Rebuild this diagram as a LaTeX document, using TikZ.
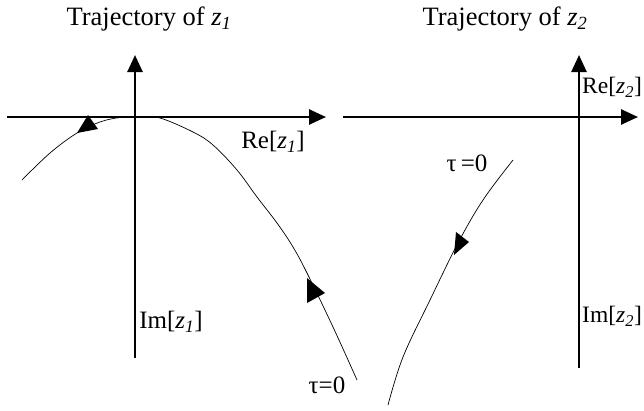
\documentclass[tikz,border=0pt]{standalone}
\usepackage{fontspec}
\setmainfont{Liberation Serif}
\usetikzlibrary{arrows.meta}

\begin{document}
\begin{tikzpicture}[x=1pt,y=-1pt]

% -------------------------------------------------------
% Layout parameters (picture units = pixels of the figure)
% -------------------------------------------------------
\def\yAx{117}     % height of both real axes
\def\xOne{135}    % imaginary axis of z_1
\def\xTwo{579}    % imaginary axis of z_2

\tikzset{
  axis/.style={line width=2.6pt, -{Triangle[length=17pt,width=15pt]}},
  traj/.style={line width=0.7pt},
  lbl/.style={font=\fontsize{25}{27}\selectfont, inner sep=0pt},
  ttl/.style={font=\fontsize{26.5}{28}\selectfont, inner sep=0pt},
}

\useasboundingbox (0,0) rectangle (644,410);

%%%%%% AXES
\coordinate (reOneL) at (7,\yAx);
\coordinate (reOneR) at (326,\yAx);
\coordinate (imOneB) at (\xOne,358);
\coordinate (imOneT) at (\xOne,55);
\draw[axis] (reOneL) -- (reOneR);
\draw[axis] (imOneB) -- (imOneT);

\coordinate (reTwoL) at (343,\yAx);
\coordinate (reTwoR) at (638,\yAx);
\coordinate (imTwoB) at (\xTwo,368);
\coordinate (imTwoT) at (\xTwo,55);
\draw[axis] (reTwoL) -- (reTwoR);
\draw[axis] (imTwoB) -- (imTwoT);

%%%%%% TRAJECTORIES
% z_1
\draw[traj] plot[smooth, tension=0.6] coordinates {
  (22,180) (50,153) (77,133) (100,122) (120,117.5) (140,117)
  (160,118) (193,132) (213,145) (237,170) (257,197) (277,223)
  (293,247) (307,273) (333,327) (357,380)};
\fill (77,133) -- (88,115) -- (98,129) -- cycle;
\fill (307,278) -- (325,293) -- (307,303) -- cycle;

% z_2
\draw[traj] plot[smooth, tension=0.6] coordinates {
  (513,160) (483,200) (458,243) (430,300) (403,357) (388,405)};
\fill (454,255) -- (456,232) -- (469,242) -- cycle;

%%%%%% LABELS
\node[ttl] (ttlOne) at (149,19) {Trajectory of \textit{z\textsubscript{1}}};
\node[ttl] (ttlTwo) at (505,19) {Trajectory of \textit{z\textsubscript{2}}};

\node[lbl] (reOne) at (273,142) {Re[\textit{z\textsubscript{1}}]};
\node[lbl] (imOne) at (171,322) {Im[\textit{z\textsubscript{1}}]};
\node[lbl] (tauOne) at (327,385) {τ=0};

\node[lbl, anchor=west, font=\fontsize{23.5}{25}\selectfont] (reTwo) at (582,87) {Re[\textit{z\textsubscript{2}}]};
\node[lbl, anchor=west, font=\fontsize{23.5}{25}\selectfont] (imTwo) at (582,316) {Im[\textit{z\textsubscript{2}}]};
\node[lbl] (tauTwo) at (467,163) {τ\,=0};

\end{tikzpicture}
\end{document}
